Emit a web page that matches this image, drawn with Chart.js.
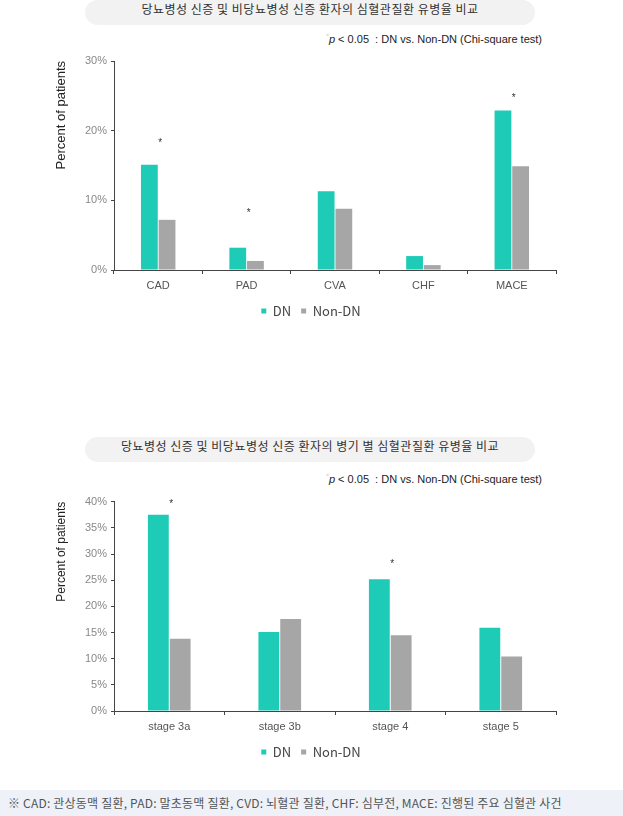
<!DOCTYPE html>
<html>
<head>
<meta charset="utf-8">
<script src="https://cdn.jsdelivr.net/npm/chart.js@4"></script>
<style>
  body { margin: 0; background: #fff; width: 623px; height: 816px; position: relative; overflow: hidden; }
  .pill {
    position: absolute; left: 85px; width: 450px; height: 25px; border-radius: 13px;
    background: #f2f2f2; color: #333; text-align: center; line-height: 25px;
    font: 12px "Noto Sans CJK KR", sans-serif; letter-spacing: 0.5px;
  }
  .note {
    position: absolute; right: 81px; height: 16px; line-height: 16px;
    font: 11px "Liberation Sans", Arial, sans-serif; color: #222; white-space: nowrap;
  }
  .note sup { font-size: 6px; color: #bbb; vertical-align: 5px; }
  .wrap { position: absolute; left: 0; width: 623px; height: 280px; }
  .footer {
    position: absolute; left: 0; top: 790px; width: 623px; height: 26px; background: #eef1f8;
    font: 12px "Noto Sans CJK KR", sans-serif; color: #555; line-height: 26px; letter-spacing: 0.2px;
    padding-left: 8px; box-sizing: border-box; white-space: nowrap;
  }
</style>
</head>
<body>
<div class="pill" style="top:0px">당뇨병성 신증 및 비당뇨병성 신증 환자의 심혈관질환 유병율 비교</div>
<div class="note" style="top:33px"><sup>*</sup><i>p</i> &lt; 0.05 &nbsp;: DN vs. Non-DN (Chi-square test)</div>
<div class="wrap" style="top:50px"><canvas id="chart1" width="623" height="280"></canvas></div>

<div class="pill" style="top:437px">당뇨병성 신증 및 비당뇨병성 신증 환자의 병기 별 심혈관질환 유병율 비교</div>
<div class="note" style="top:473px"><sup>*</sup><i>p</i> &lt; 0.05 &nbsp;: DN vs. Non-DN (Chi-square test)</div>
<div class="wrap" style="top:490px"><canvas id="chart2" width="623" height="280"></canvas></div>

<div class="footer">※ CAD: 관상동맥 질환, PAD: 말초동맥 질환, CVD: 뇌혈관 질환, CHF: 심부전, MACE: 진행된 주요 심혈관 사건</div>

<script>
// chart 1: complication type
const categories1 = ["CAD", "PAD", "CVA", "CHF", "MACE"];
const dn1 = [15.1, 3.2, 11.3, 2.0, 22.9];
const nonDn1 = [7.2, 1.3, 8.8, 0.7, 14.9];
const sig1 = [18.6, 8.6, null, null, 25.1];   // height of * marks (p < 0.05)

// chart 2: CKD stage
const categories2 = ["stage 3a", "stage 3b", "stage 4", "stage 5"];
const dn2 = [37.5, 15.1, 25.2, 15.9];
const nonDn2 = [13.8, 17.6, 14.5, 10.4];
const sig2 = [40.0, null, 28.7, null];

const seriesLabels = ["DN", "Non-DN"];
const TEAL = "#1ecbb7";
const GREY = "#a6a6a6";
const AXIS = "#444";

// draws the * significance marks at data positions
const sigPlugin = {
  id: "sigMarks",
  afterDatasetsDraw(chart, args, opts) {
    const { ctx, scales } = chart;
    ctx.save();
    ctx.fillStyle = "#333";
    ctx.font = "10px 'Liberation Sans', Arial, sans-serif";
    ctx.textAlign = "center";
    ctx.textBaseline = "alphabetic";
    opts.values.forEach((v, i) => {
      if (v == null) return;
      const x = scales.x.getPixelForValue(i) + 2;
      const y = scales.y.getPixelForValue(v);
      ctx.fillText("*", x, y + 5.7);
    });
    ctx.restore();
  }
};

function makeChart(id, labels, dn, nonDn, sig, max, step, opt) {
  return new Chart(document.getElementById(id), {
    type: "bar",
    data: {
      labels: labels,
      datasets: [
        { label: seriesLabels[0], data: dn, backgroundColor: TEAL },
        { label: seriesLabels[1], data: nonDn, backgroundColor: GREY }
      ]
    },
    options: {
      responsive: false,
      animation: false,
      categoryPercentage: opt.catPct,
      barPercentage: opt.barPct,
      layout: {
        padding: { top: opt.padTop, right: 67, bottom: opt.padBottom, left: 66 }
      },
      scales: {
        x: {
          grid: { display: true, drawOnChartArea: false, drawTicks: true, tickLength: 4, color: AXIS },
          border: { display: true, color: AXIS, width: 1 },
          ticks: {
            padding: 5,
            color: "#555",
            font: { family: "'Liberation Sans', Arial, sans-serif", size: 11 }
          },
          afterFit: scale => { scale.height = 24.5; }
        },
        y: {
          min: 0,
          max: max,
          ticks: {
            stepSize: step,
            padding: 4,
            color: "#888",
            font: { family: "'Liberation Sans', Arial, sans-serif", size: 11 },
            callback: value => value + "%"
          },
          grid: { display: true, drawOnChartArea: false, drawTicks: true, tickLength: 3, color: AXIS },
          border: { display: true, color: AXIS, width: 1 },
          title: {
            display: true,
            text: "Percent of patients",
            align: "end",
            color: "#222",
            padding: { top: -12, bottom: 0 },
            font: { family: "'Liberation Sans', Arial, sans-serif", size: opt.titleSize }
          },
          afterFit: scale => { scale.width = 48; }
        }
      },
      plugins: {
        legend: {
          position: "bottom",
          labels: {
            boxWidth: 5,
            boxHeight: 5,
            padding: 10,
            color: "#444",
            font: { family: "'Noto Sans CJK KR', sans-serif", size: 13 }
          }
        },
        tooltip: { enabled: false },
        sigMarks: { values: sig }
      }
    },
    plugins: [sigPlugin]
  });
}

makeChart("chart1", categories1, dn1, nonDn1, sig1, 30, 10,
  { catPct: 0.4, barPct: 0.95, padTop: 11, padBottom: 2.5, titleSize: 13 });
makeChart("chart2", categories2, dn2, nonDn2, sig2, 40, 5,
  { catPct: 0.395, barPct: 0.955, padTop: 11.7, padBottom: 1.5, titleSize: 12 });
</script>
</body>
</html>
